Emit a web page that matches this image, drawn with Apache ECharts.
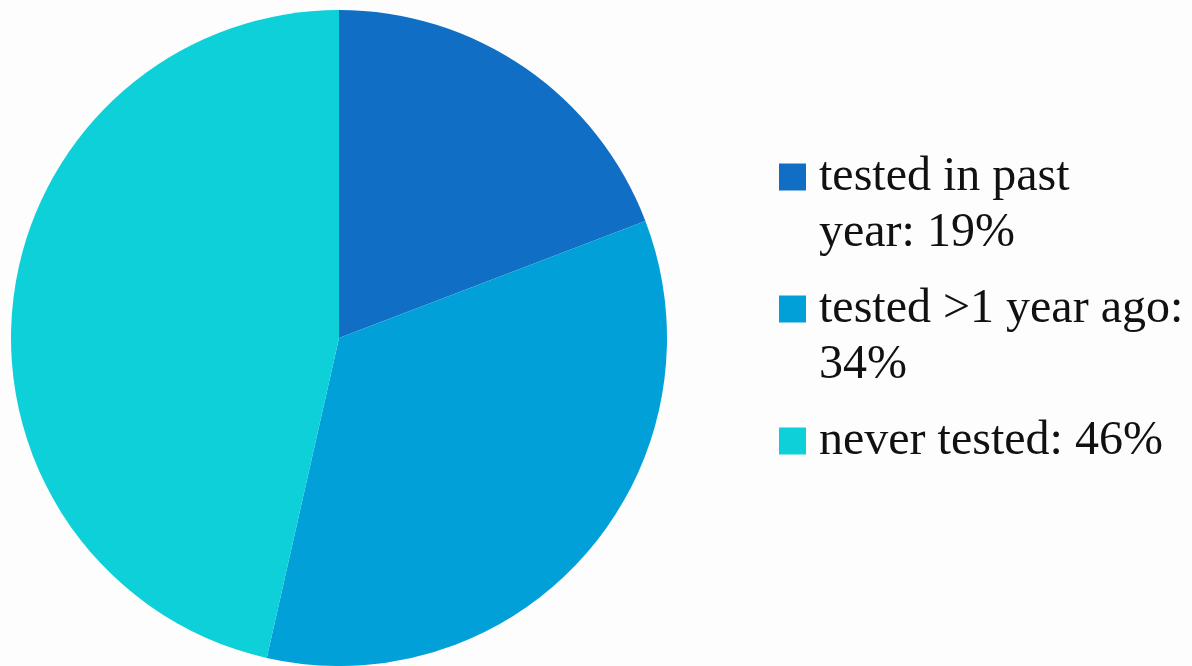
<!DOCTYPE html>
<html>
<head>
<meta charset="utf-8">
<script src="https://cdn.jsdelivr.net/npm/echarts@6/dist/echarts.min.js"></script>
<style>
  html, body { margin: 0; padding: 0; background: #fdfdfd; }
  #chart { width: 1192px; height: 666px; }
</style>
</head>
<body>
<div id="chart"></div>
<script>
// data
const categories = ['tested in past year', 'tested >1 year ago', 'never tested'];
const values = [19, 34, 46];
const colors = ['#106fc4', '#01a0d8', '#0dd0d8'];
// word after which the legend text wraps onto a second line
const wrapAfter = ['past', 'ago:', null];

const chart = echarts.init(document.getElementById('chart'));

const option = {
  backgroundColor: '#fdfdfd',
  animation: false,
  color: colors,
  legend: {
    orient: 'vertical',
    left: 779,
    top: 93,
    padding: 0,
    itemWidth: 27,
    itemHeight: 27,
    itemGap: -36,
    icon: 'rect',
    selectedMode: false,
    textStyle: {
      fontFamily: 'Liberation Serif',
      fontSize: 48,
      lineHeight: 56,
      color: '#111',
      padding: [0, 0, 0, 8],
    },
    formatter: function (name) {
      const i = categories.indexOf(name);
      let text = name + ': ' + values[i] + '%';
      const w = wrapAfter[i];
      if (w) {
        text = text.replace(w + ' ', w + '\n');
        // blank first line keeps the square level with the first text line
        return '\n' + text;
      }
      return '\n' + text + '\n';
    },
  },
  series: [
    {
      type: 'pie',
      center: [339, 338],
      radius: 328,
      startAngle: 90,
      clockwise: true,
      label: { show: false },
      labelLine: { show: false },
      emphasis: { disabled: true },
      itemStyle: { borderWidth: 0 },
      data: categories.map((c, i) => ({ name: c, value: values[i] })),
    },
  ],
};

chart.setOption(option);
</script>
</body>
</html>
